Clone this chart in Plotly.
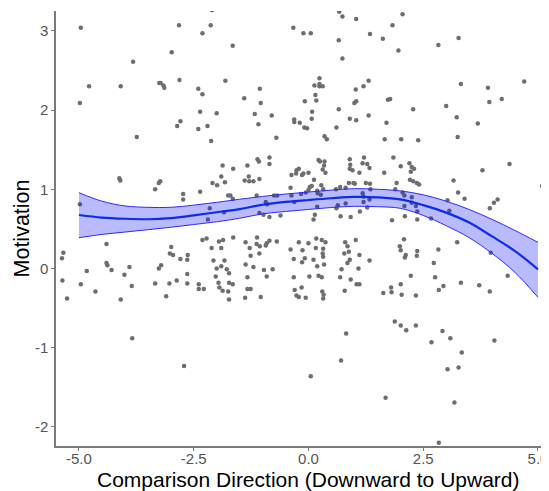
import plotly.graph_objects as go

# Scatter data (Comparison Direction, Motivation)
x_vals = [
 -4.96,-2.82,-2.98,-3.82,-4.78,-4.98,-4.09,-3.25,-3.22,-3.16,-3.14,-2.81,-3.74,-2.86,-2.79,
 -2.10,-2.13,-2.31,-1.65,-0.33,-0.11,0.05,0.67,0.74,1.04,1.34,0.66,0.74,-1.81,-2.40,-2.31,-2.36,-2.00,-2.40,-2.20,-2.12,
 -1.40,-1.06,-1.04,-1.17,-1.09,-0.80,-0.70,0.24,0.13,0.24,0.24,0.31,0.15,-0.08,0.17,0.08,-0.31,-0.31,-0.19,0.07,-0.09,-0.03,
 0.35,0.40,0.66,0.61,0.90,1.04,1.31,1.03,1.00,1.04,1.20,1.31,-1.11,-0.85,0.22,0.90,1.21,
 2.05,1.83,1.62,1.96,2.83,3.27,3.32,3.91,4.70,1.73,1.78,2.28,3.00,3.94,4.21,3.23,3.69,1.70,1.66,2.02,2.39,3.25,1.85,
 -4.98,-4.12,-4.10,-3.34,-3.26,-3.23,-5.34,-5.37,-4.40,-4.40,-4.38,-4.29,-4.83,-5.36,-4.96,-5.26,-4.64,-4.09,-4.01,-3.90,
 -3.85,-3.34,-3.26,-3.21,-3.10,-3.03,-3.02,-2.95,-2.99,-2.87,-2.79,
 -1.87,-1.64,-1.33,-1.08,-0.85,-1.30,-1.39,-1.29,-1.20,-1.07,-1.90,-2.09,-1.99,-1.82,-2.36,-2.73,-2.73,-1.75,-1.70,-1.65,
 -1.13,-0.93,-0.90,-0.75,-0.68,-2.15,-1.84,-2.19,-1.07,-0.98,-0.85,-0.61,-0.37,-0.27,-0.26,-0.21,-0.14,-0.11,0.00,0.12,
 0.07,0.03,-0.39,0.28,0.32,-0.16,-0.06,0.00,0.19,0.20,0.27,-0.37,-0.31,0.25,0.35,0.34,0.31,0.37,0.91,0.90,0.96,1.11,
 0.88,0.98,1.01,0.60,0.69,0.81,0.19,0.61,0.81,1.12,0.14,0.11,0.70,0.92,0.64,
 -2.31,-2.22,-1.95,-1.86,-1.64,-2.11,-1.90,-1.37,-1.28,-1.12,-1.13,-1.06,-0.91,-0.85,-0.69,-0.93,-1.26,-1.07,-2.64,-2.63,
 -2.07,-1.83,-1.90,-2.00,-1.78,-1.73,-1.37,-1.20,-0.97,-0.78,-0.91,-1.33,-2.64,-2.64,-2.39,-2.39,-2.28,-2.02,-1.96,-1.94,
 -1.87,-1.73,-1.65,-1.75,-1.73,-1.33,-1.26,-1.38,-1.04,-0.39,-0.21,-0.13,0.00,-0.32,-0.08,-0.14,0.17,0.29,0.37,0.16,
 0.32,0.31,0.32,0.11,0.19,0.34,-0.32,0.02,0.22,0.29,-0.30,-0.26,-0.21,-0.15,-0.06,0.30,0.33,0.32,0.80,0.85,
 0.88,0.78,1.03,0.90,1.11,1.09,0.72,0.85,0.69,0.92,1.05,1.11,0.79,
 1.18,1.28,1.33,1.65,2.01,2.20,2.25,2.30,2.23,2.21,2.28,2.36,2.41,1.92,1.89,1.25,1.34,1.35,1.18,1.20,
 1.20,1.33,1.28,2.05,2.09,2.25,2.25,2.34,2.37,2.09,1.82,2.10,2.37,2.67,3.03,3.07,3.16,3.26,3.40,3.79,
 4.38,3.95,4.04,4.12,5.09,2.08,1.99,2.01,2.12,2.10,2.37,2.36,2.83,2.73,3.24,3.97,1.33,2.23,2.76,3.32,
 3.72,4.34,2.01,1.80,1.63,1.81,2.03,2.34,2.94,2.84,3.95,
 -3.84,-2.71,0.05,0.71,0.82,1.88,2.01,2.13,2.34,2.92,2.68,3.09,3.34,3.03,3.27,4.05,1.68,3.18,2.84,
]
y_vals = [
 3.04,3.07,2.73,2.61,2.30,2.09,2.30,2.34,2.34,2.31,2.28,2.38,1.66,1.80,1.86,
 3.26,3.07,2.97,2.81,3.04,2.97,2.97,3.24,3.18,3.15,2.96,2.88,2.65,2.37,2.27,2.20,1.98,1.96,1.76,1.80,1.61,
 2.15,2.27,2.09,1.95,1.82,1.93,1.65,2.40,2.31,2.33,2.30,2.30,2.19,2.11,2.12,1.98,1.88,1.85,1.84,1.89,1.78,1.77,
 1.67,1.63,2.01,1.78,1.89,1.87,1.93,2.26,2.09,2.11,2.30,2.37,1.38,1.40,1.37,1.38,1.40,
 3.21,3.07,2.90,2.75,2.82,2.91,2.33,2.28,2.36,2.13,2.14,2.01,2.05,2.10,2.14,1.91,1.83,1.84,1.63,1.63,1.62,1.66,1.40,
 0.81,1.14,1.11,1.00,1.08,1.10,0.20,0.13,0.31,0.07,0.04,-0.02,-0.03,-0.15,-0.20,-0.38,-0.29,-0.39,-0.08,0.02,
 -0.22,-0.19,0.00,0.04,-0.35,-0.19,0.19,0.17,0.27,-0.15,0.12,
 1.30,1.26,1.30,1.35,1.32,1.16,1.11,1.10,1.10,1.13,1.16,1.08,1.05,1.09,0.97,0.94,0.87,0.92,0.92,0.88,
 0.92,0.84,0.81,0.92,0.92,0.76,0.71,0.62,0.70,0.68,0.65,0.67,1.18,1.20,1.24,1.26,1.18,1.20,1.21,1.12,
 1.04,1.03,1.02,1.05,1.00,0.94,0.96,0.99,0.98,0.95,0.93,0.92,0.84,1.35,1.35,1.30,1.25,1.21,1.31,1.26,1.24,1.21,
 1.08,1.08,1.07,1.00,1.03,1.02,0.78,0.76,0.82,0.72,0.68,0.62,0.66,0.65,0.80,
 0.36,0.38,0.34,0.36,0.39,0.26,0.26,0.33,0.26,0.39,0.31,0.28,0.32,0.35,0.34,0.29,0.16,0.19,0.11,0.17,
 0.10,0.10,0.03,0.00,-0.01,-0.06,0.05,0.02,-0.02,-0.01,-0.10,-0.11,-0.07,-0.19,-0.20,-0.26,-0.26,-0.10,-0.18,-0.24,
 -0.28,-0.18,-0.20,-0.29,-0.39,-0.26,-0.26,-0.37,-0.36,0.24,0.33,0.23,0.32,0.12,0.13,0.08,0.38,0.36,0.33,0.26,
 0.25,0.19,0.15,0.11,0.03,0.05,-0.11,-0.10,-0.09,-0.11,-0.27,-0.34,-0.36,-0.24,-0.37,-0.29,-0.33,-0.38,0.33,0.28,
 0.21,0.19,0.36,0.11,0.17,0.00,-0.01,0.07,-0.11,-0.14,-0.20,-0.20,-0.28,
 1.33,1.32,1.27,1.21,1.29,1.33,1.28,1.26,1.22,1.12,1.10,1.08,1.06,1.08,1.00,1.08,1.07,1.00,0.95,0.91,
 0.84,0.87,0.77,0.96,0.92,0.90,0.83,0.79,0.72,0.79,0.61,0.66,0.62,0.63,0.86,0.73,1.11,0.96,0.88,1.24,
 1.32,0.76,0.83,0.87,1.04,0.37,0.28,0.23,0.17,0.14,0.22,0.16,0.24,0.07,0.33,0.20,0.10,-0.09,-0.11,-0.18,
 -0.21,-0.09,-0.20,-0.24,-0.31,-0.30,-0.33,-0.34,-0.22,-0.27,-0.29,
 -0.88,-1.23,-1.36,-1.16,-0.82,-0.67,-0.72,-0.78,-0.72,-0.79,-0.93,-0.88,-1.06,-1.27,-1.25,-0.91,-1.63,-1.69,-2.20,
]

# Smoothed fit with confidence band
fit_x = [-5.0,-4.5,-4.0,-3.5,-3.0,-2.5,-2.0,-1.5,-1.0,-0.5,0.0,0.5,1.0,1.5,2.0,2.5,3.0,3.5,4.0,4.5,5.0]
fit_y = [0.675,0.643,0.628,0.622,0.635,0.67,0.71,0.75,0.805,0.84,0.865,0.887,0.903,0.898,0.872,0.80,0.705,0.58,0.405,0.22,-0.01]
fit_hi = [0.957,0.85,0.79,0.772,0.772,0.80,0.835,0.874,0.91,0.94,0.965,0.99,1.008,1.0,0.98,0.93,0.85,0.745,0.62,0.48,0.33]
fit_lo = [0.389,0.43,0.46,0.49,0.52,0.555,0.59,0.634,0.69,0.72,0.745,0.77,0.785,0.78,0.76,0.67,0.54,0.39,0.19,-0.05,-0.364]

x_ticks = [-5.0, -2.5, 0.0, 2.5, 5.0]
x_tick_text = ["-5.0", "-2.5", "0.0", "2.5", "5.0"]
y_ticks = [-2, -1, 0, 1, 2, 3]
y_tick_text = ["-2", "-1", "0", "1", "2", "3"]
x_title = "Comparison Direction (Downward to Upward)"
y_title = "Motivation"

fig = go.Figure()
fig.add_trace(go.Scatter(x=x_vals, y=y_vals, mode="markers",
                         marker=dict(size=4.5, color="#6e6e6e"), hoverinfo="skip"))
fig.add_trace(go.Scatter(x=fit_x, y=fit_hi, mode="lines",
                         line=dict(color="#2b2bff", width=1, shape="spline")))
fig.add_trace(go.Scatter(x=fit_x, y=fit_lo, mode="lines", fill="tonexty",
                         fillcolor="rgba(0,0,255,0.27)",
                         line=dict(color="#2b2bff", width=1, shape="spline")))
fig.add_trace(go.Scatter(x=fit_x, y=fit_y, mode="lines",
                         line=dict(color="#0a2cf0", width=2.2, shape="spline")))

# The page body has an 8px default margin, so the figure is sized to fit the window.
fig.update_layout(
    width=541, height=483,
    margin=dict(l=48, r=0, t=3, b=45),
    paper_bgcolor="white", plot_bgcolor="white",
    showlegend=False,
    font=dict(family="Liberation Sans, Arial, sans-serif"),
    annotations=[
        dict(text=x_title, xref="paper", yref="paper", x=0.511, y=-0.077,
             xanchor="center", yanchor="middle", showarrow=False, borderpad=0,
             font=dict(size=21, color="black")),
        dict(text=y_title, xref="paper", yref="paper", x=-0.069, y=0.5,
             xanchor="center", yanchor="middle", showarrow=False, textangle=-90,
             font=dict(size=21.5, color="black")),
    ],
)
fig.update_xaxes(
    range=[-5.50, 5.24], tickvals=x_ticks, ticktext=x_tick_text,
    showgrid=False, zeroline=False, showline=True, linecolor="#7a7a7a", linewidth=1.5,
    ticks="outside", ticklen=3, tickcolor="#7a7a7a", tickwidth=1,
    tickfont=dict(size=15, color="#555555"), ticklabeloverflow="allow",
    ticklabelstandoff=-5,
)
fig.update_yaxes(
    range=[-2.24, 3.25], tickvals=y_ticks, ticktext=y_tick_text,
    showgrid=False, zeroline=False, showline=True, linecolor="#7a7a7a", linewidth=1.5,
    ticks="outside", ticklen=3, tickcolor="#7a7a7a", tickwidth=1,
    tickfont=dict(size=15, color="#555555"),
)

fig.write_html("out.html")
